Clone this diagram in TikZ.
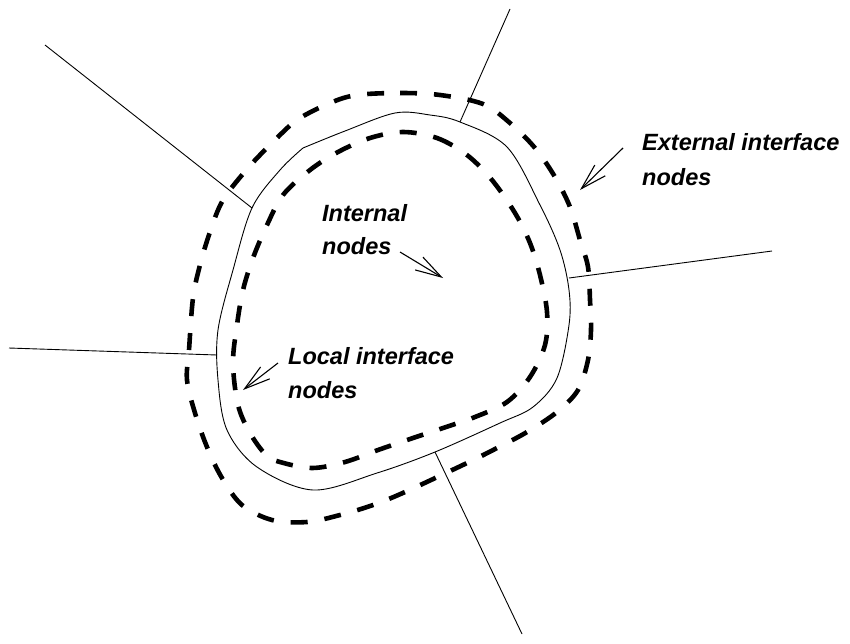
\documentclass[tikz,border=0pt]{standalone}
\usepackage{fontspec}
\setmainfont{Liberation Sans}
\usetikzlibrary{arrows.meta}
\tikzset{
  thinline/.style={line width=0.9pt},
  dashline/.style={line width=4.6pt, dash pattern=on 17pt off 17pt},
  lbl/.style={anchor=base west, inner sep=0pt, font=\fontsize{23.5}{28}\selectfont\bfseries\itshape},
  pointer/.style={line width=1.1pt, -{Straight Barb[length=26pt,width=15pt,line width=1.1pt]}}
}
\begin{document}
\begin{tikzpicture}[x=1pt,y=-1pt]
\useasboundingbox (0,0) rectangle (850,643);
% junctions on the boundary
\coordinate (jA) at (252,208);
\coordinate (jB) at (217,355);
\coordinate (jC) at (460,122);
\coordinate (jD) at (569,278);
\coordinate (jE) at (435,452);
% free ends of radial lines
\coordinate (eA) at (45,45);
\coordinate (eB) at (9,348);
\coordinate (eC) at (510,9);
\coordinate (eD) at (772,251);
\coordinate (eE) at (522,634);
% boundary (solid, with a kink at top left)
\draw[thinline] plot[smooth, tension=0.55] coordinates {
 (303,148) (345,131) (395,113) (430,115) (460,122) (507,147) (540,205)
 (560,250) (569,290) (569,325) (557,378) (533,407) (500,423) (435,452)
 (377,473) (313,490) (257,467) (227,430) (218,380) (218,330) (233,270)
 (252,208) (280,170) (303,148)};
% radial lines
\draw[thinline] (eA) -- (jA);
\draw[thinline] (eB) -- (jB);
\draw[thinline] (eC) -- (jC);
\draw[thinline] (eD) -- (jD);
\draw[thinline] (eE) -- (jE);
% external interface (outer dashed)
\draw[dashline] plot[smooth cycle, tension=0.55] coordinates {
 (357,95) (400,93) (440,95) (483,104) (510,123) (535,148) (555,177)
 (570,207) (580,240) (588,267) (590,300) (591,330) (588,360) (578,390)
 (557,412) (527,432) (497,448) (467,463) (405,492) (373,505) (340,515)
 (307,522) (272,520) (242,505) (222,478) (207,447) (195,413) (187,380)
 (189,350) (193,298) (200,265) (210,232) (223,200) (248,168) (272,143)
 (297,120) (330,103)};
% local interface (inner dashed)
\draw[dashline] plot[smooth cycle, tension=0.55] coordinates {
 (403,132) (437,138) (467,155) (492,180) (515,213) (530,243) (540,275)
 (547,312) (545,345) (530,377) (507,402) (475,417) (443,428) (410,439)
 (378,450) (345,462) (312,468) (280,462) (266,455) (250,433) (238,405)
 (233,363) (237,325) (243,290) (253,258) (267,225) (283,195) (310,170)
 (338,152) (370,138)};
% labels
\node[lbl] (ext1) at (642,150) {External interface};
\node[lbl] (ext2) at (642,185) {nodes};
\node[lbl] (int1) at (322,221) {Internal};
\node[lbl] (int2) at (322,254) {nodes};
\node[lbl] (loc1) at (288,364) {Local interface};
\node[lbl] (loc2) at (288,398) {nodes};
% pointers
\coordinate (extT) at (623,148);
\coordinate (extH) at (580,190);
\coordinate (intT) at (400,252);
\coordinate (intH) at (443,278);
\coordinate (locT) at (278,363);
\coordinate (locH) at (243,390);
\draw[pointer] (extT) -- (extH);
\draw[pointer] (intT) -- (intH);
\draw[pointer] (locT) -- (locH);
\end{tikzpicture}
\end{document}
